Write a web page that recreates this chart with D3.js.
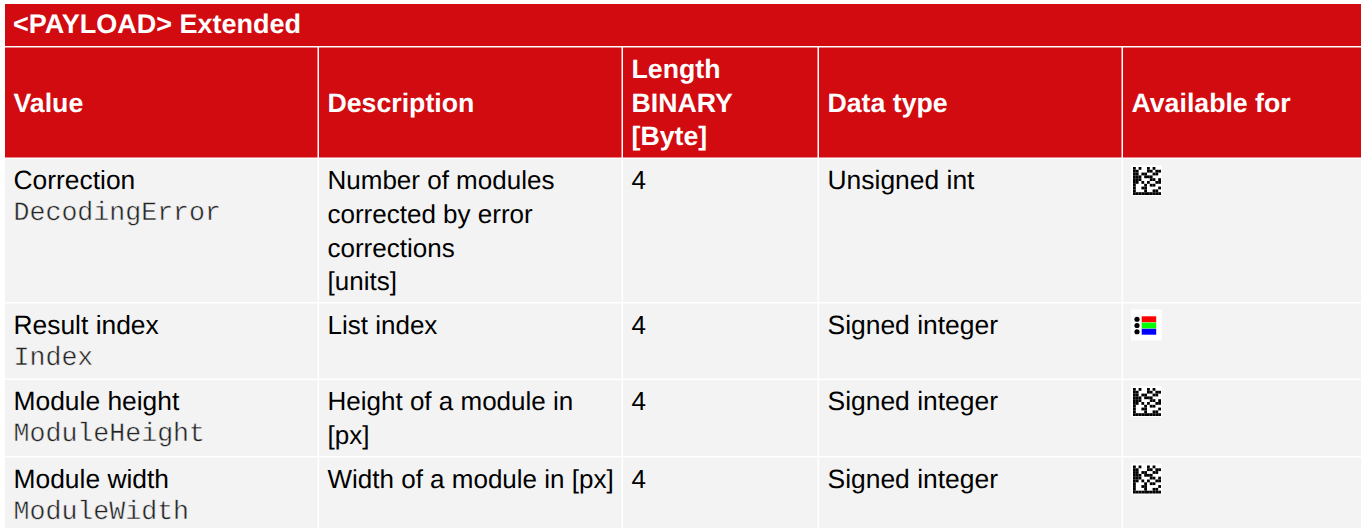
<!DOCTYPE html>
<html>
<head>
<meta charset="utf-8">
<script src="https://cdn.jsdelivr.net/npm/d3@7"></script>
<style>
  html, body { margin: 0; padding: 0; background: #fff; }
  svg { display: block; }
  text { font-family: "Liberation Sans", Arial, sans-serif; font-size: 26px; fill: #000; text-rendering: geometricPrecision; }
  .head { font-weight: bold; font-size: 26.7px; fill: #fff; }
  .title { font-size: 27px; }
  .name { font-size: 26.4px; }
  .type { font-size: 26.45px; }
  .code { font-family: "Liberation Mono", monospace; font-size: 26.6px; fill: #222; stroke: #f3f3f3; stroke-width: 0.45px; }
</style>
</head>
<body>
<svg id="table"></svg>
<script>
const title = '<PAYLOAD> Extended';
const columns = ['Value', 'Description', 'Length|BINARY|[Byte]', 'Data type', 'Available for'];
const names = ['Correction', 'Result index', 'Module height', 'Module width'];
const codes = ['DecodingError', 'Index', 'ModuleHeight', 'ModuleWidth'];
const descriptions = [
  ['Number of modules', 'corrected by error', 'corrections', '[units]'],
  ['List index'],
  ['Height of a module in', '[px]'],
  ['Width of a module in [px]']
];
const lengths = ['4', '4', '4', '4'];
const dataTypes = ['Unsigned int', 'Signed integer', 'Signed integer', 'Signed integer'];
const available = ['matrix', 'list', 'matrix', 'matrix'];
const matrixCode = [
  '1010010100',
  '1100011011',
  '1101100110',
  '1110111000',
  '1110001101',
  '1101010011',
  '1000101100',
  '1001100001',
  '1000100110',
  '1111111111'
];
const listColors = ['#ff0000', '#00ff00', '#0000ff'];

const width = 1365;
const height = 528;
const red = '#d20b11';
const grey = '#f3f3f3';
const gap = 1.5;
const colEdges = [5, 319, 623, 819, 1123, 1361];
const rowEdges = [159, 303.5, 380, 457.5, 528];
const lineStep = 33.7;
const padX = 8.5;

const svg = d3.select('#table').attr('width', width).attr('height', height);

const defs = svg.append('defs');
defs.append('filter').attr('id', 'soft')
  .append('feGaussianBlur').attr('stdDeviation', 0.5);

const colX = d3.scaleOrdinal().domain(columns).range(colEdges.slice(0, 5));
const colEnd = d3.scaleOrdinal().domain(columns).range(colEdges.slice(1));
const rowY = d3.scaleOrdinal().domain(names).range(rowEdges.slice(0, 4));
const rowEnd = d3.scaleOrdinal().domain(names).range(rowEdges.slice(1));

// title band
svg.append('rect').attr('x', 5).attr('y', 4).attr('width', 1356).attr('height', 42).attr('fill', red);
svg.append('text').attr('class', 'head title').attr('x', 13).attr('y', 33).text(title);

// header cells
const head = svg.append('g').selectAll('g').data(columns).enter().append('g');
head.append('rect')
  .attr('x', d => colX(d))
  .attr('y', 47.5)
  .attr('width', d => colEnd(d) - colX(d) - (d === 'Available for' ? 0 : gap))
  .attr('height', 110)
  .attr('fill', red);
head.each(function(d) {
  const lines = d.split('|');
  d3.select(this).selectAll('text').data(lines).enter().append('text')
    .attr('class', 'head')
    .attr('x', colX(d) + padX)
    .attr('y', (l, i) => 111.5 + (i - (lines.length - 1) / 2) * lineStep)
    .text(l => l);
});

// body cells
const cell = (name, col) => ({ name, col });
const bodyCells = names.flatMap(n => columns.map(c => cell(n, c)));
svg.append('g').selectAll('rect').data(bodyCells).enter().append('rect')
  .attr('x', d => colX(d.col))
  .attr('y', d => rowY(d.name))
  .attr('width', d => colEnd(d.col) - colX(d.col) - (d.col === 'Available for' ? 0 : gap))
  .attr('height', d => rowEnd(d.name) - rowY(d.name) - (d.name === 'Module width' ? 0 : gap))
  .attr('fill', grey);

const firstLine = n => rowY(n) + 30.3;

const rows = svg.append('g').selectAll('g').data(names).enter().append('g');
rows.append('text').attr('class', 'name').attr('x', colX(columns[0]) + padX).attr('y', d => firstLine(d)).text(d => d);
rows.append('text').attr('class', 'code').attr('x', colX(columns[0]) + padX)
  .attr('y', d => firstLine(d) + 31).text((d, i) => codes[i]);
rows.each(function(n, i) {
  d3.select(this).selectAll('.desc').data(descriptions[i]).enter().append('text')
    .attr('class', 'desc')
    .attr('x', colX(columns[1]) + padX)
    .attr('y', (l, j) => firstLine(n) + j * lineStep)
    .text(l => l);
});
rows.append('text').attr('x', colX(columns[2]) + padX).attr('y', d => firstLine(d)).text((d, i) => lengths[i]);
rows.append('text').attr('class', 'type').attr('x', colX(columns[3]) + padX).attr('y', d => firstLine(d)).text((d, i) => dataTypes[i]);

// availability icons
const iconX = colX(columns[4]) + 8;
const icons = rows.append('g').attr('transform', d => `translate(${iconX},${rowY(d) + 6})`);
icons.append('rect').attr('x', 0).attr('y', 0).attr('width', 31).attr('height', 31).attr('fill', '#fff');

const mx = d3.scaleBand().domain(d3.range(10)).range([2, 30]);
icons.filter((d, i) => available[i] === 'matrix').each(function() {
  const g = d3.select(this).append('g').attr('filter', 'url(#soft)');
  matrixCode.forEach((row, r) => {
    row.split('').forEach((bit, c) => {
      if (bit === '1') {
        g.append('rect').attr('x', mx(c)).attr('y', mx(r))
          .attr('width', mx.bandwidth()).attr('height', mx.bandwidth()).attr('fill', '#000');
      }
    });
  });
});

const ly = d3.scaleBand().domain(listColors).range([6.5, 25.5]).padding(0.05);
const listIcons = icons.filter((d, i) => available[i] === 'list').append('g').attr('filter', 'url(#soft)');
listIcons.selectAll('circle').data(listColors).enter().append('circle')
  .attr('cx', 6).attr('cy', d => ly(d) + ly.bandwidth() / 2).attr('r', 2.6).attr('fill', '#000');
listIcons.selectAll('.bar').data(listColors).enter().append('rect')
  .attr('class', 'bar').attr('x', 10.7).attr('y', d => ly(d))
  .attr('width', 14.5).attr('height', ly.bandwidth()).attr('fill', d => d);
</script>
</body>
</html>
